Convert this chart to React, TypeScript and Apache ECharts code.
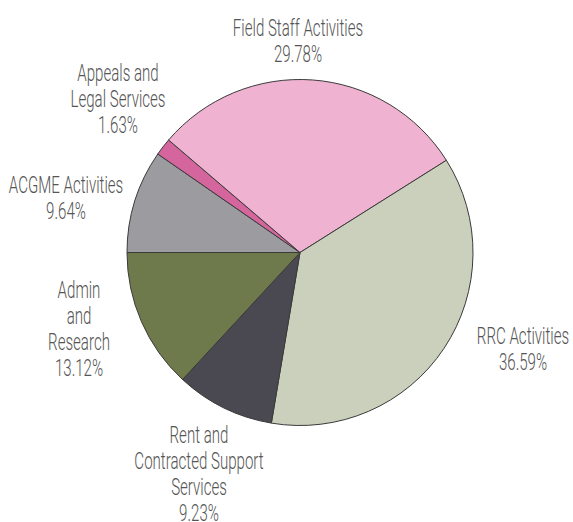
import React, { useEffect, useRef } from "react";
import * as echarts from "echarts";

const categories = [
  "ACGME Activities",
  "Appeals and\nLegal Services",
  "Field Staff Activities",
  "RRC Activities",
  "Rent and\nContracted Support\nServices",
  "Admin\nand\nResearch",
];
const values = [9.64, 1.63, 29.78, 36.59, 9.23, 13.12];
const colors = ["#9c9ca0", "#d4659d", "#efb2d1", "#cbd0bc", "#4a4850", "#6e7a4c"];
// label block centres (x, y) in pixels
const labelPos: [number, number][] = [
  [66, 198],
  [118, 99],
  [298, 41],
  [523, 349],
  [199, 474],
  [79, 329],
];

export default function App() {
  const ref = useRef<HTMLDivElement>(null);
  useEffect(() => {
    document.body.style.margin = "0";
    const chart = echarts.init(ref.current!, undefined, { renderer: "svg" });
    chart.setOption({
      animation: false,
      backgroundColor: "#ffffff",
      graphic: categories.map((name, i) => ({
        type: "text",
        x: labelPos[i][0],
        y: labelPos[i][1],
        scaleX: 0.655,
        style: {
          text: `${name}\n${values[i].toFixed(2)}%`,
          fontFamily: "Roboto, 'DejaVu Sans Condensed', sans-serif",
          fontWeight: 300,
          fontSize: 23,
          lineHeight: 26,
          fill: "#555555",
          align: "center",
          verticalAlign: "middle",
        },
      })),
      series: [
        {
          type: "pie",
          center: [300, 252.5],
          radius: 173,
          startAngle: 180,
          clockwise: true,
          data: categories.map((name, i) => ({
            name: name.replace(/\n/g, " "),
            value: values[i],
            itemStyle: { color: colors[i] },
          })),
          itemStyle: { borderColor: "#3a3a3a", borderWidth: 1 },
          label: { show: false },
          labelLine: { show: false },
        },
      ],
    });
    return () => chart.dispose();
  }, []);
  return <div ref={ref} style={{ width: 573, height: 522 }} />;
}
